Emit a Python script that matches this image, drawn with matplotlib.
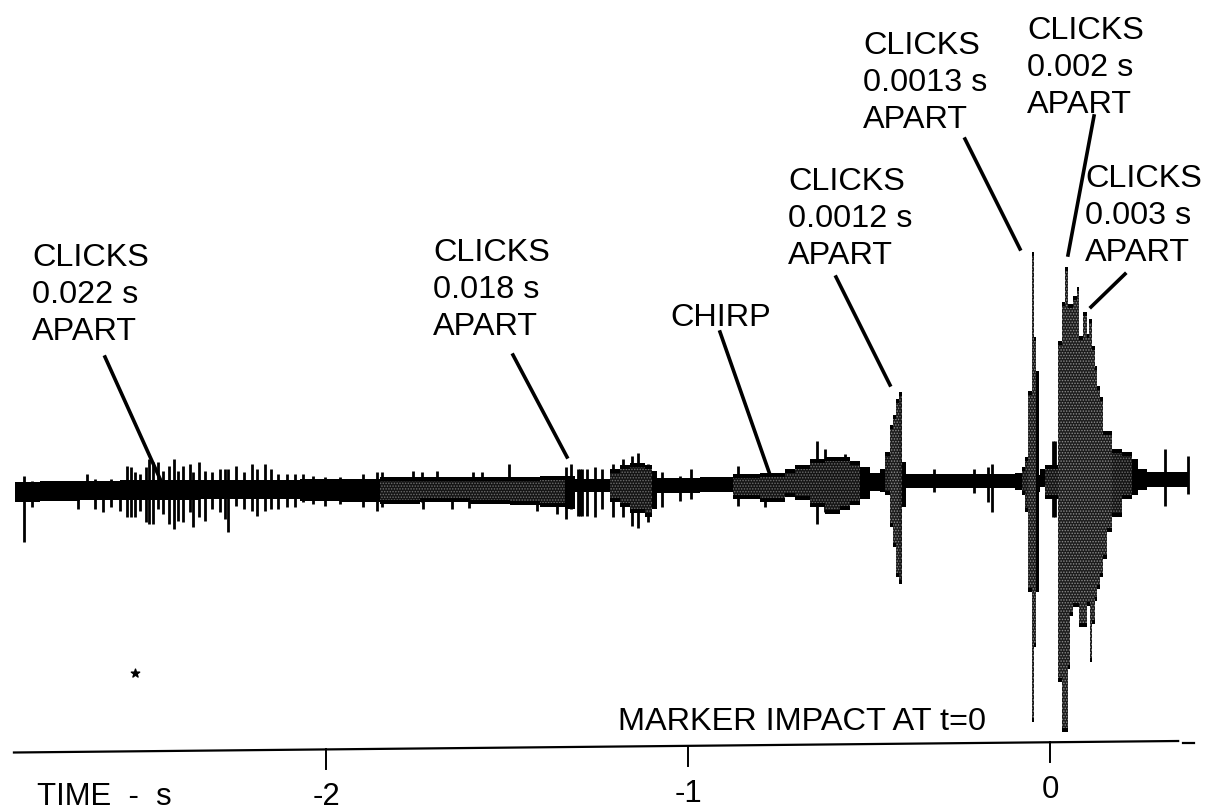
import matplotlib
matplotlib.use("Agg")
import matplotlib.pyplot as plt
import numpy as np

# envelope of the record: time in s, amplitude in arbitrary units
env_t = [-2.859, -2.790, -2.680, -2.569, -2.459, -2.348, -2.210, -2.072, -1.961, -1.851,
         -1.740, -1.602, -1.492, -1.409, -1.340, -1.312, -1.215, -1.188, -1.160, -1.119,
         -1.099, -1.086, -0.967, -0.876, -0.801, -0.732, -0.704, -0.663, -0.622, -0.580,
         -0.552, -0.525, -0.497, -0.470, -0.456, -0.442, -0.434, -0.425, -0.417, -0.409,
         -0.398, -0.097, -0.077, -0.069, -0.061, -0.050, -0.044, -0.039, -0.030, -0.028,
         -0.014, 0.022, 0.028, 0.033, 0.041, 0.050, 0.055, 0.064, 0.075, 0.080,
         0.091, 0.102, 0.108, 0.110, 0.116, 0.124, 0.130, 0.138, 0.146, 0.157,
         0.171, 0.199, 0.227, 0.243, 0.268, 0.381]
env_top = [5, 6, 6, 7, 7, 7, 7, 8, 8, 10,
           10, 10, 10, 11, 11, 8, 18, 22, 24, 22,
           16, 9, 10, 13, 14, 18, 22, 28, 30, 30,
           26, 20, 14, 18, 35, 62, 72, 88, 95, 25,
           13, 14, 20, 30, 96, 235, 150, 116, 12, 18,
           22, 146, 146, 185, 220, 183, 183, 191, 200, 151,
           175, 153, 168, 168, 141, 121, 101, 90, 56, 56,
           38, 35, 28, 18, 15, 15]
env_bot = [-15, -14, -13, -13, -13, -12, -12, -14, -15, -17,
           -15, -17, -18, -20, -22, -5, -15, -20, -26, -30,
           -22, -6, -5, -12, -15, -10, -13, -20, -27, -23,
           -18, -12, -4, -5, -8, -40, -60, -90, -97, -20,
           -1, -3, -8, -25, -105, -235, -160, -105, -5, 0,
           -12, -195, -195, -245, -245, -182, -129, -120, -120, -140,
           -140, -119, -119, -175, -137, -114, -102, -90, -72, -45,
           -30, -12, -8, -3, 0, 0]

# individual clicks standing out of the envelope
click_t = [-2.834, -2.812, -2.685, -2.660, -2.638, -2.616, -2.594, -2.569, -2.550, -2.539,
           -2.528, -2.514, -2.497, -2.489, -2.478, -2.464, -2.450, -2.434, -2.420, -2.409,
           -2.395, -2.376, -2.367, -2.351, -2.334, -2.315, -2.293, -2.279, -2.271, -2.249,
           -2.227, -2.204, -2.191, -2.169, -2.152, -2.133, -2.108, -2.086, -2.064, -2.036,
           -2.003, -1.961, -1.898, -1.859, -1.845, -1.760, -1.735, -1.732, -1.693, -1.652,
           -1.605, -1.594, -1.569, -1.494, -1.417, -1.362, -1.337, -1.323, -1.304, -1.298,
           -1.292, -1.279, -1.257, -1.238, -1.207, -1.180, -1.155, -1.138, -1.110, -1.072,
           -1.022, -0.992, -0.862, -0.787, -0.644, -0.622, -0.566, -0.320, -0.210, -0.170,
           -0.160, 0.009, 0.014, 0.163, 0.317, 0.381]
click_top = [11, 6, 6, 13, 8, 6, 8, 5, 21, 20,
             15, 13, 20, 28, 25, 25, 16, 21, 28, 16,
             21, 23, 15, 25, 16, 15, 18, 18, 18, 21,
             15, 23, 18, 23, 18, 13, 13, 13, 13, 11,
             10, 10, 13, 15, 15, 16, 15, 10, 16, 10,
             10, 15, 15, 23, 10, 10, 20, 23, 18, 18,
             18, 18, 20, 18, 23, 28, 31, 34, 23, 15,
             11, 18, 21, 13, 46, 38, 33, 18, 18, 20,
             23, 46, 46, 45, 38, 31]
click_bot = [-55, -20, -22, -12, -22, -25, -20, -24, -30, -30,
             -30, -24, -35, -37, -37, -22, -27, -37, -42, -34,
             -35, -25, -40, -30, -34, -22, -25, -32, -45, -19,
             -22, -24, -29, -24, -22, -22, -20, -20, -15, -17,
             -19, -17, -20, -24, -20, -15, -15, -22, -14, -22,
             -21, -14, -12, -15, -24, -27, -32, -22, -29, -29,
             -29, -29, -30, -22, -30, -30, -39, -41, -35, -20,
             -14, -12, -19, -20, -37, -25, -22, -5, -6, -15,
             -25, -30, -30, -28, -19, -7]

tick_vals = [-2, -1, 0]
tick_labels = ["-2", "-1", "0"]
axis_t = [-2.862, 0.354]
axis_y = [-265.5, -254]

notes = [
    ("CLICKS\n0.022 s\nAPART", 32, 295, (105, 358), (161, 482)),
    ("CLICKS\n0.018 s\nAPART", 433, 290, (513, 356), (567, 458)),
    ("CHIRP", 670, 318, (720, 333), (769, 473)),
    ("CLICKS\n0.0012 s\nAPART", 788, 219, (836, 278), (890, 386)),
    ("CLICKS\n0.0013 s\nAPART", 863, 83, (965, 140), (1020, 250)),
    ("CLICKS\n0.002 s\nAPART", 1027, 68, (1094, 117), (1068, 256)),
    ("CLICKS\n0.003 s\nAPART", 1085, 216, (1125, 275), (1091, 308)),
]

W, H = 1205, 812
plt.rcParams["font.family"] = ["Liberation Sans", "DejaVu Sans"]
plt.rcParams["hatch.linewidth"] = 0.7

fig = plt.figure(figsize=(W / 100, H / 100), dpi=100)
ax = fig.add_axes([0, 0, 1, 1])
ax.set_xlim((0 - 1050) / 362, (W - 1050) / 362)
ax.set_ylim(488 - H, 488)
ax.axis("off")

t = np.array(env_t)
top = np.array(env_top)
bot = np.array(env_bot)

ax.fill_between(t, top, bot, step="post", facecolor="black", linewidth=0, zorder=0.4)
ax.vlines(click_t, click_bot, click_top, color="black", linewidth=2.0, zorder=0.5)

# speckled inside of the trace, like the halftone of the scan
ax.fill_between(t, top - 4, bot + 4, where=(top - bot > 24), step="post", facecolor="#141414",
                edgecolor="#6e6e6e", hatch="......", linewidth=0, zorder=1)
ax.fill_between(t, top - 4, bot + 4, where=(top - bot > 60), step="post", facecolor="#1c1c1c",
                edgecolor="#8c8c8c", hatch="......", linewidth=0, zorder=1.1)

ax.plot(axis_t, axis_y, color="black", linewidth=1.6)
ax.plot([0.368, 0.398], [-256, -256], color="black", linewidth=1.6)
slope = (axis_y[1] - axis_y[0]) / (axis_t[1] - axis_t[0])
for v, lab in zip(tick_vals, tick_labels):
    y0 = axis_y[0] + slope * (v - axis_t[0])
    ax.plot([v, v], [y0, y0 - 20], color="black", linewidth=1.4)
    ax.text(v, y0 - 47, lab, ha="center", va="center", fontsize=22.4)

def px(x, y):
    return x / W, 1 - y / H

for label, x, y, start, end in notes:
    fig.text(*px(x, y), label, ha="left", va="center", fontsize=23.3, linespacing=1.3)
    fig.add_artist(plt.Line2D(*zip(px(*start), px(*end)), color="black", linewidth=2.6,
                              transform=fig.transFigure))

fig.text(*px(618, 722), "MARKER IMPACT AT t=0", ha="left", va="center", fontsize=23.4)
fig.text(*px(37, 797), "TIME  -  s", ha="left", va="center", fontsize=22.4)

# ink blot on the scan
ax.scatter([(135 - 1050) / 362], [488 - 674], s=40, color="black", marker="*")

fig.savefig("out.png", dpi=100)
